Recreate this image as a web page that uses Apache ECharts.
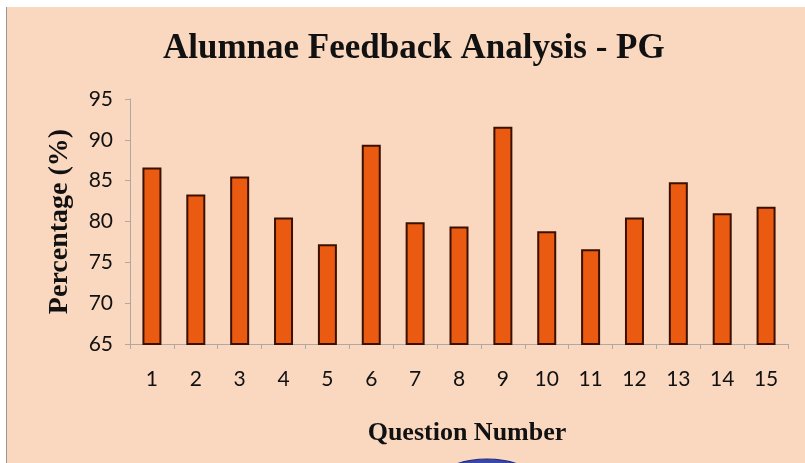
<!DOCTYPE html>
<html>
<head>
<meta charset="utf-8">
<script src="https://cdn.jsdelivr.net/npm/echarts@6/dist/echarts.min.js"></script>
<style>
  html, body { margin: 0; padding: 0; background: #fff; }
  #chart { width: 805px; height: 463px; }
</style>
</head>
<body>
<div id="chart"></div>
<script>
  // question numbers and feedback percentages
  var questions = ['1', '2', '3', '4', '5', '6', '7', '8', '9', '10', '11', '12', '13', '14', '15']
  var percentages = [86.6, 83.3, 85.5, 80.5, 77.2, 89.4, 79.9, 79.4, 91.6, 78.8, 76.6, 80.5, 84.8, 81.0, 81.8]
  var yTicks = [65, 70, 75, 80, 85, 90, 95]

  var chart = echarts.init(document.getElementById('chart'))
  chart.setOption({
    backgroundColor: '#fad8c0',
    animation: false,
    title: {
      text: 'Alumnae Feedback Analysis - PG',
      left: 158,
      top: 26,
      textStyle: {
        fontFamily: 'Liberation Serif',
        fontWeight: 'bold',
        fontSize: 35,
        color: '#111'
      }
    },
    graphic: [
      { type: 'rect', shape: { x: 0, y: 0, width: 805, height: 7 }, style: { fill: '#fff' } },
      { type: 'rect', shape: { x: 0, y: 0, width: 6, height: 463 }, style: { fill: '#fff' } },
      { type: 'line', shape: { x1: 6.5, y1: 7, x2: 6.5, y2: 463 }, style: { stroke: '#a09890', lineWidth: 1 } },
      {
        type: 'circle', shape: { cx: 0, cy: 0, r: 20 }, x: 487, y: 479, scaleX: 2.3,
        style: { fill: '#3848a8', stroke: '#1c2c80', lineWidth: 1 }, z: 10
      }
    ],
    grid: {
      left: 130,
      right: 17,
      top: 99,
      bottom: 119
    },
    xAxis: {
      type: 'category',
      data: questions,
      name: 'Question Number',
      nameLocation: 'middle',
      nameGap: 76,
      nameTextStyle: {
        fontFamily: 'Liberation Serif',
        fontWeight: 'bold',
        fontSize: 26,
        color: '#111',
        padding: [0, 0, 0, 16]
      },
      axisLine: { lineStyle: { color: '#b0a8a4', width: 1 } },
      axisTick: { show: true, length: 5, lineStyle: { color: '#b0a8a4' } },
      axisLabel: {
        margin: 25,
        fontFamily: 'Lato',
        fontSize: 21,
        color: '#111'
      }
    },
    yAxis: {
      type: 'value',
      min: yTicks[0],
      max: yTicks[yTicks.length - 1],
      interval: 5,
      name: 'Percentage (%)',
      nameLocation: 'middle',
      nameGap: 56,
      nameTextStyle: {
        fontFamily: 'Liberation Serif',
        fontWeight: 'bold',
        fontSize: 28,
        color: '#111'
      },
      axisLine: { show: true, lineStyle: { color: '#b0a8a4', width: 1 } },
      axisTick: { show: true, length: 5, lineStyle: { color: '#b0a8a4' } },
      splitLine: { show: false },
      axisLabel: {
        margin: 17,
        fontFamily: 'Lato',
        fontSize: 21,
        color: '#111'
      }
    },
    series: [{
      type: 'bar',
      data: percentages,
      barWidth: 19,
      itemStyle: {
        color: '#ea5a10',
        borderColor: '#3a1000',
        borderWidth: 2
      }
    }]
  })
</script>
</body>
</html>
